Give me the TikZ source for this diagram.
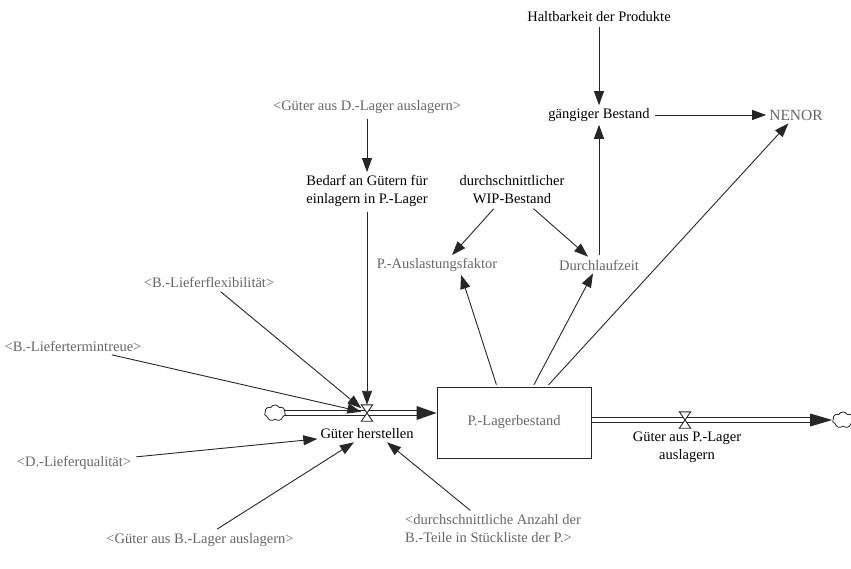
\documentclass[tikz,border=0pt]{standalone}
\usepackage{fontspec}
\setmainfont{Liberation Serif}
\usetikzlibrary{arrows.meta,shapes.symbols,calc}
\definecolor{ink}{HTML}{262626}
\definecolor{shade}{HTML}{666666}
\tikzset{
  base/.style={font=\fontsize{14.5}{18}\selectfont, align=center, inner sep=3pt, text=black},
  ghost/.style={base, text=shade},
  conn/.style={draw=ink, line width=0.9pt, -{Triangle[length=14pt,width=10pt]}, shorten <=2pt},
  stockbox/.style={base, text=shade, draw=ink, line width=0.9pt, minimum width=154pt, minimum height=71pt},
  valvebox/.style={minimum width=11pt, minimum height=16pt, inner sep=0pt},
  pipeline/.style={draw=ink, line width=0.9pt},
  cloudnode/.style={cloud, cloud puffs=7, cloud puff arc=120, draw=ink, fill=white, line width=0.8pt,
    minimum width=21pt, minimum height=16pt, inner sep=0pt, aspect=1.4},
  valveshape/.style={draw=ink, line width=0.9pt, fill=white}
}
\begin{document}
\begin{tikzpicture}[x=1pt,y=-1pt]
\useasboundingbox (0,0) rectangle (851,569);

% stock, valves and the ends of both flows
\node[stockbox] (box) at (514,422.5) {P.-Lagerbestand};
\node[valvebox] (v1) at (367,413) {};
\node[valvebox] (v2) at (685,420) {};
\coordinate (srcpt) at (275,413);
\coordinate (snkpt) at (843,420);
\coordinate (inL) at (box.west |- srcpt);
\coordinate (outR) at (box.east |- snkpt);

% flow pipes: two parallel lines each
\foreach \d in {-2.3,2.3} {
  \draw[pipeline] ($(srcpt)+(0,\d)$) -- ($(inL)+(-18,\d)$);
  \draw[pipeline] ($(outR)+(0,\d)$) -- ($(snkpt)+(-28,\d)$);
}
\fill[ink] (inL) -- ++(-20,-7) -- ++(0,14) -- cycle;
\node[cloudnode] (src) at (srcpt) {};
\node[cloudnode] (snk) at (snkpt) {};
\fill[ink] (snk.west) -- ++(-22,-6.5) -- ++(0,13) -- cycle;

% valves
\foreach \v in {v1,v2}
  \draw[valveshape] (\v.north west) -- (\v.north east) -- (\v.south west) -- (\v.south east) -- cycle;

% variables
\node[base] (gh) at (367,434) {Güter herstellen};
\node[base] (gpa) at (687,447) {Güter aus P.-Lager\\auslagern};
\node[base] (halt) at (599,17) {Haltbarkeit der Produkte};
\node[base] (gb) at (599,115) {gängiger Bestand};
\node[ghost, font=\fontsize{15.5}{18}\selectfont] (nenor) at (796,115) {NENOR};
\node[ghost] (gdl) at (367,107) {<Güter aus D.-Lager auslagern>};
\node[base] (bed) at (367,191) {Bedarf an Gütern für\\einlagern in P.-Lager};
\node[base] (wip) at (512,190) {durchschnittlicher\\WIP-Bestand};
\node[ghost] (aus) at (437,265) {P.-Auslastungsfaktor};
\node[ghost] (dlz) at (599,265) {Durchlaufzeit};
\node[ghost] (flex) at (209,282) {<B.-Lieferflexibilität>};
\node[ghost] (ttr) at (73,346) {<B.-Liefertermintreue>};
\node[ghost] (dlq) at (74,463) {<D.-Lieferqualität>};
\node[ghost] (gbl) at (200,540) {<Güter aus B.-Lager auslagern>};
\node[ghost, align=left] (anz) at (493,529) {<durchschnittliche Anzahl der\\B.-Teile in Stückliste der P.>};

% connectors
\draw[conn] (halt) -- (gb);
\draw[conn] (gb) -- (nenor);
\draw[conn] (gdl) -- (bed);
\draw[conn] (bed) -- (v1);
\draw[conn] ($(wip.south)+(-17,0)$) -- ($(aus.north)+(15,0)$);
\draw[conn] ($(wip.south)+(20,0)$) -- ($(dlz.north)+(-11,0)$);
\draw[conn] (dlz) -- (gb);
\draw[conn] ($(box.north)+(-17,0)$) -- ($(aus.south)+(24,0)$);
\draw[conn] ($(box.north)+(19,0)$) -- ($(dlz.south)+(-6,0)$);
\draw[conn] ($(box.north)+(33,0)$) -- (nenor);
\draw[conn] (flex) -- (v1);
\draw[conn] (ttr) -- (v1);
\draw[conn] (dlq) -- (gh);
\draw[conn] (gbl) -- (gh);
\draw[conn] (anz) -- ($(gh.south)+(20,0)$);
\end{tikzpicture}
\end{document}
